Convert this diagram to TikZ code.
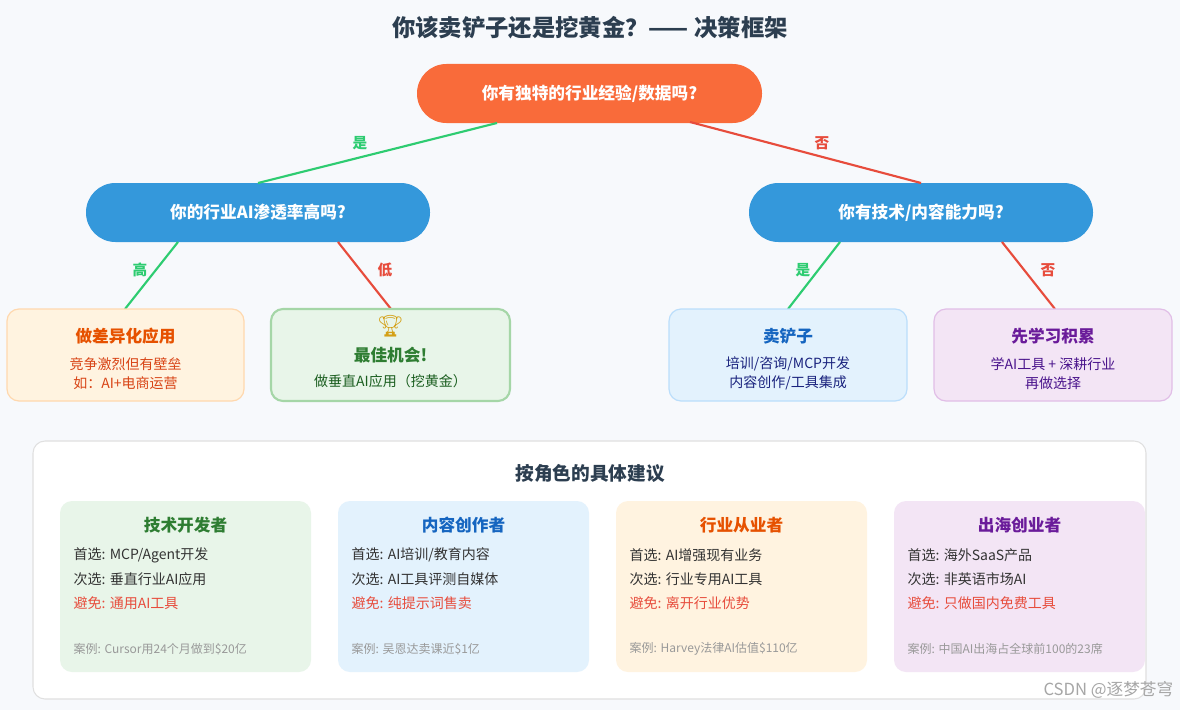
\documentclass[tikz,border=0pt]{standalone}
\usepackage{fontspec}
\setmainfont{Noto Sans CJK SC}
\newfontfamily\emo{Noto Emoji}
\definecolor{bgc}{HTML}{F7F9FC}
\definecolor{ttl}{HTML}{2C3E50}
\definecolor{orng}{HTML}{F96B3A}
\definecolor{blu}{HTML}{3498DB}
\definecolor{grn}{HTML}{2ECC71}
\definecolor{rd}{HTML}{E74C3C}
\definecolor{gold}{HTML}{D4A017}
\definecolor{fO}{HTML}{FFF3E0}\definecolor{bO}{HTML}{FFD8AE}\definecolor{tO}{HTML}{E65100}\definecolor{sO}{HTML}{D84315}
\definecolor{fG}{HTML}{E8F5E9}\definecolor{bG}{HTML}{A5D6A7}\definecolor{tG}{HTML}{2E7D32}\definecolor{sG}{HTML}{1B5E20}
\definecolor{fB}{HTML}{E3F2FD}\definecolor{bB}{HTML}{BBDEFB}\definecolor{tB}{HTML}{1565C0}\definecolor{sB}{HTML}{1A237E}
\definecolor{fP}{HTML}{F3E5F5}\definecolor{bP}{HTML}{E1BEE7}\definecolor{tP}{HTML}{6A1B9A}\definecolor{sP}{HTML}{4A148C}
\begin{document}
\begin{tikzpicture}[x=0.75pt,y=-0.75pt,
  pill/.style={text=white,font=\fontsize{12.5}{14}\selectfont\bfseries},
  conn/.style={line width=1.6pt},
  lab/.style={font=\fontsize{11}{12}\selectfont\bfseries},
  leaf/.style={rounded corners=9pt,line width=0.9pt},
  ct/.style={font=\fontsize{12.5}{14}\selectfont\bfseries},
  cs/.style={font=\fontsize{10.5}{12}\selectfont},
  rl/.style={anchor=west,font=\fontsize{10.5}{12}\selectfont,text=black!80},
  cas/.style={anchor=west,font=\fontsize{9}{10}\selectfont,text=black!40}]
\fill[bgc] (0,0) rectangle (1180,710);
\node[font=\fontsize{17.5}{20}\selectfont\bfseries,text=ttl] (title) at (590,28) {你该卖铲子还是挖黄金？—— 决策框架};
% tree nodes
\fill[orng,rounded corners=22pt] (417,64) rectangle (762,123);
\node[pill] (root) at (589.5,93.5) {你有独特的行业经验/数据吗?};
\fill[blu,rounded corners=22pt] (86,183) rectangle (430,242);
\node[pill] (ql) at (258,212.5) {你的行业AI渗透率高吗?};
\fill[blu,rounded corners=22pt] (749,183) rectangle (1093,242);
\node[pill] (qr) at (921,212.5) {你有技术/内容能力吗?};
\coordinate (r1) at (497,123); \coordinate (r2) at (690,122);
\coordinate (l0) at (258,183); \coordinate (rr0) at (921,183);
\coordinate (la) at (178,242); \coordinate (lb) at (338,242);
\coordinate (ra) at (840,242); \coordinate (rb) at (1002,242);
\coordinate (a1) at (125,309); \coordinate (a2) at (391,309);
\coordinate (a3) at (788,309); \coordinate (a4) at (1055,309);
\draw[conn,grn] (r1) -- (l0);
\draw[conn,rd] (r2) -- (rr0);
\draw[conn,grn] (la) -- (a1);
\draw[conn,rd] (lb) -- (a2);
\draw[conn,grn] (ra) -- (a3);
\draw[conn,rd] (rb) -- (a4);
\node[lab,text=grn] (y1) at (360,143) {是};
\node[lab,text=rd] (n1) at (822,143) {否};
\node[lab,text=grn] (y2) at (140,270) {高};
\node[lab,text=rd] (n2) at (385,270) {低};
\node[lab,text=grn] (y3) at (803,270) {是};
\node[lab,text=rd] (n3) at (1048,270) {否};
% leaves
\filldraw[leaf,fill=fO,draw=bO] (7,309) rectangle (244,401);
\node[ct,text=tO] (l1t) at (125.5,336) {做差异化应用};
\node[cs,text=sO] (l1a) at (125.5,364) {竞争激烈但有壁垒};
\node[cs,text=sO] (l1b) at (125.5,383) {如：AI+电商运营};
\filldraw[leaf,fill=fG,draw=bG,line width=1.6pt] (271,309) rectangle (510,401);
\node[font=\emo\fontsize{16}{18}\selectfont,text=gold] (cup) at (390.5,326) {🏆};
\node[ct,text=tG] (l2t) at (390.5,355) {最佳机会!};
\node[cs,text=sG] (l2a) at (390.5,381) {做垂直AI应用（挖黄金）};
\filldraw[leaf,fill=fB,draw=bB] (669,309) rectangle (907,401);
\node[ct,text=tB] (l3t) at (788,336) {卖铲子};
\node[cs,text=sB] (l3a) at (788,364) {培训/咨询/MCP开发};
\node[cs,text=sB] (l3b) at (788,383) {内容创作/工具集成};
\filldraw[leaf,fill=fP,draw=bP] (934,309) rectangle (1172,401);
\node[ct,text=tP] (l4t) at (1053,336) {先学习积累};
\node[cs,text=sP] (l4a) at (1053,364) {学AI工具 + 深耕行业};
\node[cs,text=sP] (l4b) at (1053,383) {再做选择};
% bottom panel
\filldraw[fill=white,draw=black!12,rounded corners=9pt,line width=0.8pt] (33,441) rectangle (1146,699);
\node[font=\fontsize{14}{16}\selectfont\bfseries,text=ttl] (ptitle) at (590,473) {按角色的具体建议};
\foreach \x/\f/\t/\h/\a/\b/\c/\d in {
 60/fG/tG/技术开发者/{MCP/Agent开发}/垂直行业AI应用/通用AI工具/Cursor用24个月做到\$20亿,
 338/fB/tB/内容创作者/{AI培训/教育内容}/AI工具评测自媒体/纯提示词售卖/吴恩达卖课近\$1亿,
 616/fO/tO/行业从业者/AI增强现有业务/行业专用AI工具/离开行业优势/Harvey法律AI估值\$110亿,
 894/fP/tP/出海创业者/海外SaaS产品/非英语市场AI/只做国内免费工具/中国AI出海占全球前100的23席}{
 \fill[\f,rounded corners=9pt] (\x,501) rectangle ++(251,171);
 \node[ct,text=\t] at (\x+125.5,525) {\h};
 \node[rl] at (\x+9,555) {首选: \a};
 \node[rl] at (\x+9,579) {次选: \b};
 \node[rl,text=rd] at (\x+9,603) {避免: \c};
 \node[cas] at (\x+9,649) {案例: \d};
}
\node[font=\fontsize{12.5}{14}\selectfont,text=black!35,anchor=east] (wm) at (1178,690) {CSDN @逐梦苍穹};
\end{tikzpicture}
\end{document}
